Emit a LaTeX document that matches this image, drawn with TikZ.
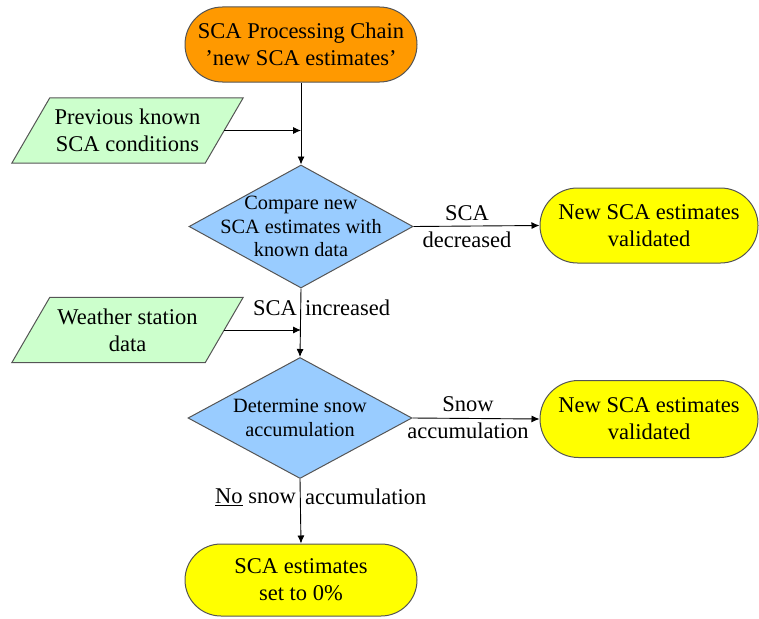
\documentclass[tikz,border=0pt]{standalone}
\usepackage{fontspec}
\setmainfont{Liberation Serif}
\usetikzlibrary{shapes.misc,shapes.geometric,arrows.meta,backgrounds}
\definecolor{orangefill}{HTML}{FF9900}
\definecolor{yellowfill}{HTML}{FFFF00}
\definecolor{bluefill}{HTML}{99CCFF}
\definecolor{greenfill}{HTML}{CCFFCC}
\definecolor{edgegray}{HTML}{555555}
\tikzset{
  mainfont/.style={font=\fontsize{22.5}{27}\selectfont},
  term/.style={rounded rectangle, draw=edgegray, line width=1pt, minimum width=232pt, minimum height=75pt, align=center, inner sep=0pt, mainfont},
  decision/.style={diamond, draw=edgegray, line width=1pt, fill=bluefill, minimum width=224pt, minimum height=123pt, inner sep=0pt},
  dtext/.style={font=\fontsize{20.3}{23.5}\selectfont, align=center, inner sep=0pt},
  paratext/.style={minimum width=193pt, minimum height=65pt, inner sep=0pt, align=center, mainfont},
  parashape/.style={draw=edgegray, line width=1pt, fill=greenfill},
  lbl/.style={font=\fontsize{22.5}{27}\selectfont, inner sep=0pt, align=center},
  conn/.style={draw=black, line width=0.9pt},
  arr/.style={conn, -{Latex[length=8pt,width=7pt]}}
}
\begin{document}
\begin{tikzpicture}[x=1pt,y=-1pt]
\useasboundingbox (0,0) rectangle (759,618);
% terminals
\node[term, fill=orangefill] (top) at (301,44.5) {SCA Processing Chain\\'new SCA estimates'};
\node[term, fill=yellowfill, minimum width=218pt] (v1) at (649,225.5) {New SCA estimates\\validated};
\node[term, fill=yellowfill, minimum width=218pt, minimum height=77pt] (v2) at (649,419) {New SCA estimates\\validated};
\node[term, fill=yellowfill, minimum height=72pt] (bot) at (301,580) {SCA estimates\\set to 0\%};
% decisions
\node[decision, label={[dtext]center:Compare new\\SCA estimates with\\known data}] (d1) at (301,226.5) {};
\node[decision, minimum height=121pt, label={[dtext]center:Determine snow\\accumulation}] (d2) at (300,418) {};
% inputs
\node[paratext] (p1) at (127.5,130.5) {Previous known\\SCA conditions};
\node[paratext] (p2) at (127.5,330) {Weather station\\data};
\begin{pgfonlayer}{background}
\path[parashape] ([xshift=19pt]p1.north west) -- ([xshift=19pt]p1.north east) -- ([xshift=-19pt]p1.south east) -- ([xshift=-19pt]p1.south west) -- cycle;
\path[parashape] ([xshift=19pt]p2.north west) -- ([xshift=19pt]p2.north east) -- ([xshift=-19pt]p2.south east) -- ([xshift=-19pt]p2.south west) -- cycle;
\end{pgfonlayer}
% connectors
\draw[arr] (top.south) -- (d1.north);
\draw[arr] (p1.east) -- (p1.east -| top.south);
\draw[arr] (d1.east) -- (v1.west);
\draw[arr] (d1.south) -- (d2.north);
\draw[arr] (p2.east) -- (p2.east -| d1.south);
\draw[arr] (d2.east) -- (v2.west);
\draw[arr] (d2.south) -- (bot.north);
% labels
\node[lbl] (l1) at (467,226.5) {SCA\\decreased};
\node[lbl, anchor=east] (l2a) at (297,308) {SCA};
\node[lbl, anchor=west] (l2b) at (305,308) {increased};
\node[lbl] (l3) at (468,418) {Snow\\accumulation};
\node[lbl, anchor=east] (l4a) at (296,497) {\underline{No} snow};
\node[lbl, anchor=west] (l4b) at (305,497) {accumulation};
\end{tikzpicture}
\end{document}
